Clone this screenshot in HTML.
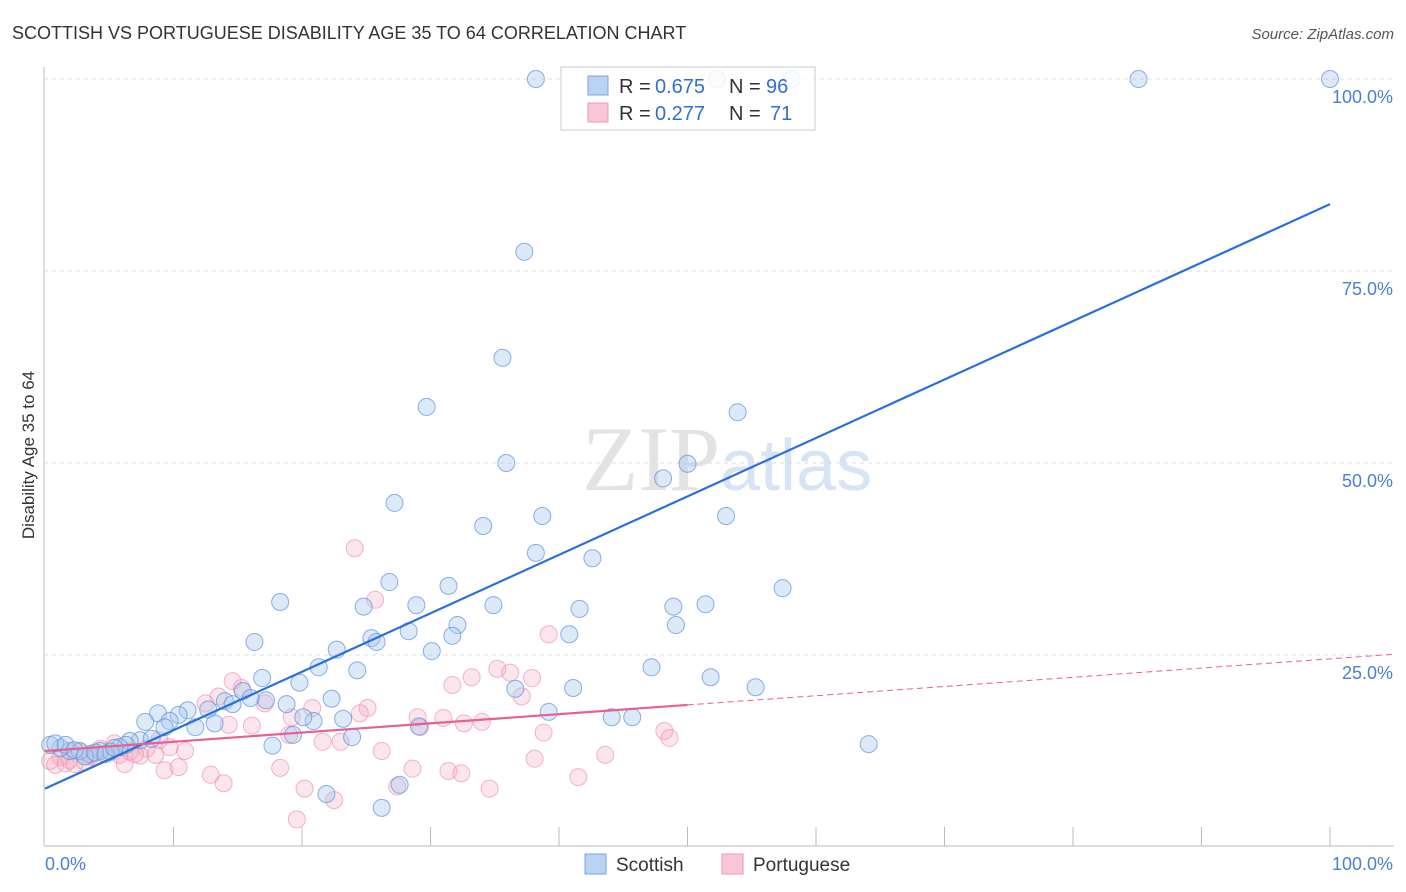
<!DOCTYPE html>
<html><head><meta charset="utf-8"><style>
body{margin:0;background:#fff;font-family:"Liberation Sans",sans-serif;}
#wrap{position:relative;width:1406px;height:892px;overflow:hidden;}
</style></head><body>
<div id="wrap">
<svg id="svg" width="1406" height="892" xmlns="http://www.w3.org/2000/svg">
<text x="12" y="39" font-size="18" fill="#333">SCOTTISH VS PORTUGUESE DISABILITY AGE 35 TO 64 CORRELATION CHART</text>
<text x="1394" y="39" font-size="15" fill="#555" font-style="italic" text-anchor="end">Source: ZipAtlas.com</text>
<text x="34" y="455" font-size="17" fill="#333" text-anchor="middle" transform="rotate(-90 34 455)">Disability Age 35 to 64</text>
<text x="720" y="490" font-size="92" fill="#e3e3e3" text-anchor="end" font-family="Liberation Serif,serif">ZIP</text>
<text x="720" y="490" font-size="72" fill="#d6e4f5">atlas</text>
<g id="grid"></g><g id="pts"></g><g id="lines"></g>
<g>
<rect x="561" y="67" width="254" height="63" fill="#fff" fill-opacity="0.85" stroke="#ccc"/>
<rect x="588" y="76" width="20" height="19" fill="#b9d3f3" stroke="#7aa6e0"/>
<rect x="588" y="103" width="20" height="19" fill="#f9c6d6" stroke="#ee98b2"/>
<g font-size="20" fill="#333">
<text x="619" y="93">R =</text><text x="655" y="93" fill="#2f6fd6">0.675</text><text x="729" y="93">N =</text><text x="766" y="93" fill="#2f6fd6">96</text></g>
<g font-size="20" fill="#333">
<text x="619" y="120">R =</text><text x="655" y="120" fill="#2f6fd6">0.277</text><text x="729" y="120">N =</text><text x="770" y="120" fill="#2f6fd6">71</text></g>
</g>
<g>
<rect x="585" y="854" width="21" height="20" fill="#b9d3f3" stroke="#7aa6e0"/>
<text x="616" y="871" font-size="19" fill="#333">Scottish</text>
<rect x="722" y="854" width="21" height="20" fill="#f9c6d6" stroke="#ee98b2"/>
<text x="753" y="871" font-size="19" fill="#333">Portuguese</text>
</g>
</svg>
</div>
<script>
const scottishX=[38.2,52.3,58.1,85.1,100,37.3,35.6,29.7,53.9,35.9,50,48.1,27.2,38.7,53,34.1,38.2,42.6,26.8,57.4,31.4,18.3,24.8,28.9,34.9,41.6,48.9,51.4,32.1,49.1,28.3,25.4,40.8,16.3,25.8,31.7,30.1,22.7,21.3,24.3,47.2,16.9,51.8,19.8,36.6,41.1,55.3,17.2,22.3,15.4,39.2,18.8,14,16,12.7,14.6,11.1,8.8,10.4,7.8,9.7,20.9,23.2,20.1,11.7,13.2,9.3,44.1,45.7,29.1,19.3,23.9,17.7,64.1,7.4,8.3,6.6,6.3,5.8,5.1,4.3,3.5,2.7,1.9,1.2,0.4,0.8,1.6,2.3,3.1,3.9,27.6,21.9,26.2,4.7,5.4];
const scottishY=[100,100,100,100,100,77.5,63.7,57.3,56.6,50,49.9,48,44.8,43.1,43.1,41.8,38.3,37.6,34.5,33.7,34,31.9,31.3,31.5,31.5,31,31.3,31.6,28.9,28.9,28.1,27.2,27.7,26.7,26.7,27.5,25.5,25.7,23.4,23,23.4,22,22.1,21.4,20.6,20.7,20.8,19.1,19.3,20.3,17.6,18.6,19,19.4,17.9,18.6,17.8,17.4,17.2,16.3,16.4,16.4,16.7,16.9,15.6,16.1,15.6,16.9,16.9,15.7,14.6,14.3,13.2,13.4,13.9,14.1,13.8,13.3,13,12.4,12.5,12.1,12.5,12.5,12.9,13.3,13.5,13.3,12.6,11.8,12.3,8.1,6.9,5.1,12.1,12.9];
const portX=[24.1,25.7,39.2,14.6,15.3,35.2,36.2,33.2,37.9,31.7,37.1,13.5,17.1,12.5,20.8,25.1,24.5,19.2,29,31,32.6,34,14.3,16.1,29.2,38.8,48.2,48.6,19,21.6,23,8.9,9.7,10.9,7.9,6.6,5.8,5.1,4.3,3.5,2.7,1.9,1.2,0.4,0.8,1.6,2.3,3.1,3.9,7.4,8.6,26.2,43.6,38.1,18.3,9.3,10.4,12.9,31.4,32.4,28.6,41.5,13.9,20.2,27.4,34.6,22.5,19.6,6.2,7,5.4];
const portY=[38.9,32.2,27.7,21.6,20.7,23.2,22.7,22.1,22,21.1,19.6,19.6,18.7,18.7,18.1,18.1,17.4,16.9,16.9,16.8,16.1,16.3,15.9,15.8,15.6,14.9,15.1,14.2,14.6,13.7,13.7,13.9,13,12.5,12.8,12.4,12,12.5,12.8,11.8,12.4,11.3,11.7,11.2,10.7,10.9,10.8,11.1,11.7,11.9,12,12.5,12,11.5,10.3,10,10.4,9.4,9.9,9.6,10.2,9.1,8.3,7.6,7.9,7.6,6.1,3.6,10.8,12.1,13.5];
const blueLine=[7.6,83.7];
const pinkLine=[12.5,24.5];
const pinkSolidEnd=50;
const yTicks=[25,50,75,100];
const xTicks=[0,10,20,30,40,50,60,70,80,90,100];
const NS='http://www.w3.org/2000/svg';
const X=v=>45+v*12.85, Y=v=>847-v*7.68;
function mk(t,a,p){const e=document.createElementNS(NS,t);for(const k in a)e.setAttribute(k,a[k]);document.getElementById(p).appendChild(e);return e;}
let ax=mk('line',{x1:44,y1:67,x2:44,y2:846,stroke:'#bbb'},'grid');


let bx=mk('line',{x1:44,y1:846,x2:1394,y2:846,stroke:'#bbb'},'grid');


yTicks.forEach(t=>{
 const l=mk('line',{x1:44,y1:Y(t),x2:1394,y2:Y(t),stroke:'#ddd','stroke-dasharray':'4,4'},'grid');
 
 
 const tx=mk('text',{x:1393,y:Y(t)+24,'font-size':18,fill:'#4a7fd4','text-anchor':'end'},'grid');tx.textContent=t.toFixed(1)+'%';
 
 
});
xTicks.forEach(t=>{if(t===0)return;
 const l=mk('line',{x1:X(t),y1:827,x2:X(t),y2:846,stroke:'#bbb'},'grid');
 
 
});
[[0,45,'start'],[100,1393,'end']].forEach(([v,x,a])=>{const tx=mk('text',{x:x,y:870,'font-size':18,fill:'#4a7fd4','text-anchor':a},'grid');tx.textContent=v.toFixed(1)+'%';
 
 });
portX.forEach((v,i)=>{const c=mk('circle',{cx:X(v),cy:Y(portY[i]),r:8.5,fill:'#f4a9c1','fill-opacity':0.3,stroke:'#ec8fae','stroke-opacity':0.65},'pts');
 
 });
scottishX.forEach((v,i)=>{const c=mk('circle',{cx:X(v),cy:Y(scottishY[i]),r:8.5,fill:'#a8c8f0','fill-opacity':0.4,stroke:'#5b90d8','stroke-opacity':0.7},'pts');
 
 });
const bl=mk('line',{x1:X(0),y1:Y(blueLine[0]),x2:X(100),y2:Y(blueLine[1]),stroke:'#2a6fdb','stroke-width':2.2},'lines');


const py=v=>pinkLine[0]+(pinkLine[1]-pinkLine[0])*v/100;
const pl=mk('line',{x1:X(0),y1:Y(py(0)),x2:X(pinkSolidEnd),y2:Y(py(pinkSolidEnd)),stroke:'#e8608f','stroke-width':2.2},'lines');


const pd=mk('line',{x1:X(pinkSolidEnd),y1:Y(py(pinkSolidEnd)),x2:1394,y2:Y(py((1394-45)/12.85)),stroke:'#e8608f','stroke-width':1,'stroke-dasharray':'6,4'},'lines');


</script>
</body></html>
